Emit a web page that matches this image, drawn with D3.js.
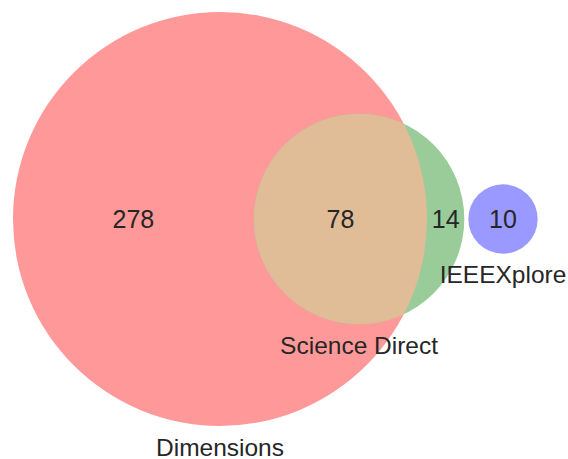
<!DOCTYPE html>
<html>
<head>
<meta charset="utf-8">
<script src="https://cdn.jsdelivr.net/npm/d3@7"></script>
<style>
  html, body { margin: 0; padding: 0; background: #fff; }
  text { font-family: "Liberation Sans", Arial, sans-serif; fill: #262626; }
</style>
</head>
<body>
<svg id="chart" width="568" height="459"></svg>
<script>
/* Venn of search sources */

const SET_NAMES = ["Dimensions", "Science Direct", "IEEEXplore"];
const SET_COLORS = ["#ff9999", "#99cc99", "#9999ff"];
const OVERLAP_COLOR = "#e0bc97";

// region counts: Dimensions only, Dimensions & Science Direct, Science Direct only, IEEEXplore only
const REGION_LABELS = ["278", "78", "14", "10"];
const REGION_VALUES = [278, 78, 14, 10];

const dimTotal = REGION_VALUES[0] + REGION_VALUES[1];
const sdTotal = REGION_VALUES[1] + REGION_VALUES[2];
const ieeeTotal = REGION_VALUES[3];
const overlap = REGION_VALUES[1];

const svg = d3.select("#chart");
const cy = 219;
const left = 13;

const r = d3.scaleSqrt().domain([0, dimTotal]).range([0, 207]);
const r1 = r(dimTotal), r2 = r(sdTotal), r3 = r(ieeeTotal);

function lensArea(d, a, b) {
  if (d >= a + b) return 0;
  if (d <= Math.abs(a - b)) return Math.PI * Math.min(a, b) ** 2;
  const p = a * a * Math.acos((d * d + a * a - b * b) / (2 * d * a));
  const q = b * b * Math.acos((d * d + b * b - a * a) / (2 * d * b));
  const s = 0.5 * Math.sqrt((-d + a + b) * (d + a - b) * (d - a + b) * (d + a + b));
  return p + q - s;
}

// find center distance that gives the overlap area
const target = Math.PI * r(overlap) ** 2;
let lo = Math.abs(r1 - r2), hi = r1 + r2;
for (let i = 0; i < 60; i++) {
  const mid = (lo + hi) / 2;
  if (lensArea(mid, r1, r2) > target) lo = mid; else hi = mid;
}
const dist = (lo + hi) / 2;

const c1 = left + r1;
const c2 = c1 + dist;
const gap = 4;
const c3 = c2 + r2 + gap + r3;

const circles = [
  { x: c1, r: r1 },
  { x: c2, r: r2 },
  { x: c3, r: r3 },
];

svg.append("defs").append("clipPath").attr("id", "clip-dim")
  .append("circle").attr("cx", c1).attr("cy", cy).attr("r", r1);

svg.selectAll("circle.set")
  .data(circles)
  .join("circle")
  .attr("class", "set")
  .attr("cx", d => d.x)
  .attr("cy", cy)
  .attr("r", d => d.r)
  .attr("fill", (d, i) => SET_COLORS[i]);

// overlap of Dimensions and Science Direct
svg.append("circle")
  .attr("cx", c2).attr("cy", cy).attr("r", r2)
  .attr("clip-path", "url(#clip-dim)")
  .attr("fill", OVERLAP_COLOR);

// region label positions: middle of each region along the center line
const regionX = [
  (c1 - r1 + c2 - r2) / 2,
  (c2 - r2 + c1 + r1) / 2,
  (c1 + r1 + c2 + r2) / 2,
  c3,
];

svg.selectAll("text.count")
  .data(REGION_LABELS)
  .join("text")
  .attr("class", "count")
  .attr("x", (d, i) => regionX[i])
  .attr("y", cy)
  .attr("dy", "0.35em")
  .attr("text-anchor", "middle")
  .attr("font-size", 25)
  .text(d => d);

svg.selectAll("text.setname")
  .data(SET_NAMES)
  .join("text")
  .attr("class", "setname")
  .attr("x", (d, i) => circles[i].x)
  .attr("y", (d, i) => cy + circles[i].r + 12)
  .attr("dy", "0.72em")
  .attr("text-anchor", "middle")
  .attr("font-size", 24.5)
  .text(d => d);
</script>
</body>
</html>
